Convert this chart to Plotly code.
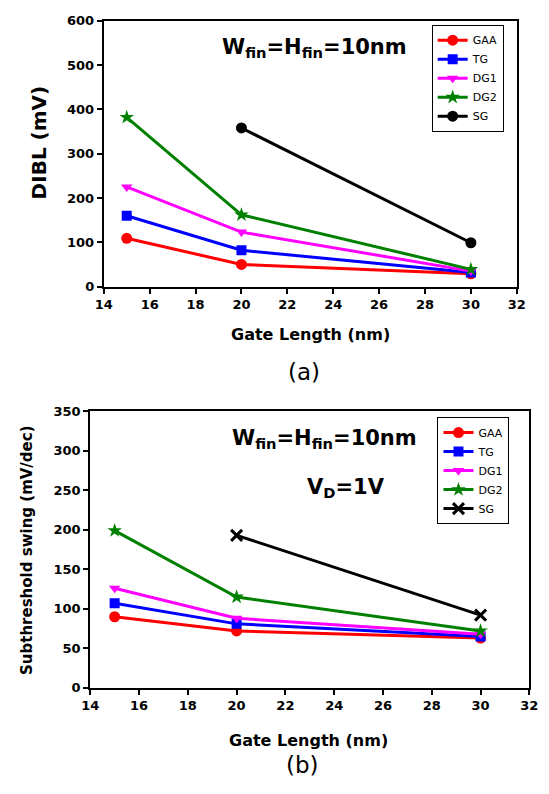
import plotly.graph_objects as go

# ---- data ----
gate_length = [15, 20, 30]
gate_length_sg = [20, 30]

dibl_gaa = [109, 50, 29]
dibl_tg = [160, 82, 32]
dibl_dg1 = [225, 123, 35]
dibl_dg2 = [382, 162, 39]
dibl_sg = [358, 99]

ss_gaa = [90, 72, 63]
ss_tg = [107, 81, 65]
ss_dg1 = [126, 88, 68]
ss_dg2 = [199, 115, 72]
ss_sg = [193, 92]

series_names = ["GAA", "TG", "DG1", "DG2", "SG"]
colors = ["#ff0000", "#0000ff", "#ff00ff", "#008000", "#000000"]
symbols_a = ["circle", "square", "triangle-down", "star", "circle"]
symbols_b = ["circle", "square", "triangle-down", "star", "x-thin-open"]

W, H = 549, 794
FONT = "DejaVu Sans, Liberation Sans, sans-serif"

def px(x):
    return x / W

def py(y):
    return 1 - y / H

fig = go.Figure()

top = [dibl_gaa, dibl_tg, dibl_dg1, dibl_dg2, dibl_sg]
bot = [ss_gaa, ss_tg, ss_dg1, ss_dg2, ss_sg]

def msize(sym):
    return {"star": 11, "square": 10, "triangle-down": 10}.get(sym, 11)

for i, name in enumerate(series_names):
    xs = gate_length_sg if name == "SG" else gate_length
    sym = symbols_a[i]
    fig.add_trace(go.Scatter(
        x=xs, y=top[i], name=name, mode="lines+markers",
        line=dict(color=colors[i], width=3),
        marker=dict(symbol=sym, size=msize(sym), color=colors[i],
                    line=dict(width=0, color=colors[i])),
        xaxis="x", yaxis="y", legend="legend"))
for i, name in enumerate(series_names):
    xs = gate_length_sg if name == "SG" else gate_length
    sym = symbols_b[i]
    fig.add_trace(go.Scatter(
        x=xs, y=bot[i], name=name, mode="lines+markers",
        line=dict(color=colors[i], width=3),
        marker=dict(symbol=sym, size=msize(sym), color=colors[i],
                    line=dict(width=3 if sym == "x-thin-open" else 0, color=colors[i])),
        xaxis="x2", yaxis="y2", legend="legend2"))

axis_common = dict(showline=True, linecolor="black", linewidth=2, mirror=True,
                   ticks="outside", ticklen=5, tickwidth=1.5, tickcolor="black",
                   showgrid=False, zeroline=False,
                   tickfont=dict(family=FONT, size=13, color="black", weight="bold"))

legend_common = dict(xanchor="left", yanchor="top",
                     bgcolor="white", bordercolor="black", borderwidth=1,
                     font=dict(family=FONT, size=11, color="black"),
                     tracegroupgap=0, itemwidth=30)

fig.update_layout(
    width=W, height=H,
    margin=dict(l=0, r=0, t=0, b=0),
    paper_bgcolor="white", plot_bgcolor="white",
    font=dict(family=FONT, color="black"),
    xaxis=dict(domain=[px(98), px(525)], range=[14, 32], dtick=2, anchor="y", **axis_common),
    yaxis=dict(domain=[py(285), py(14)], range=[0, 600], dtick=100, anchor="x", **axis_common),
    xaxis2=dict(domain=[px(84), px(538)], range=[14, 32], dtick=2, anchor="y2", **axis_common),
    yaxis2=dict(domain=[py(694), py(412)], range=[0, 350], dtick=50, anchor="x2", **axis_common),
    legend=dict(x=px(437), y=py(18), **legend_common),
    legend2=dict(x=px(443), y=py(418), **legend_common),
    showlegend=True,
)

ann = []
def add_text(x, y, text, size, bold=True, angle=0):
    ann.append(dict(x=px(x), y=py(y), xref="paper", yref="paper", text=text,
                    showarrow=False, textangle=angle, xanchor="center", yanchor="middle",
                    font=dict(family=FONT, size=size, color="black",
                              weight="bold" if bold else "normal")))

add_text(316, 42, "W<sub>fin</sub>=H<sub>fin</sub>=10nm", 21)
add_text(312, 334, "Gate Length (nm)", 16)
add_text(31, 138, "DIBL (mV)", 20, angle=-90)
add_text(305, 372, "(a)", 23, bold=False)

add_text(326, 440, "W<sub>fin</sub>=H<sub>fin</sub>=10nm", 21)
add_text(348, 490, "V<sub>D</sub>=1V", 21)
add_text(310, 748, "Gate Length (nm)", 16)
add_text(18, 554, "Subthreshold swing (mV/dec)", 15, angle=-90)
add_text(303, 773, "(b)", 23, bold=False)

fig.update_layout(annotations=ann)

fig.write_html("out.html",
               config={"displayModeBar": False},
               post_script="document.body.style.margin='0';document.body.style.overflow='hidden';")
